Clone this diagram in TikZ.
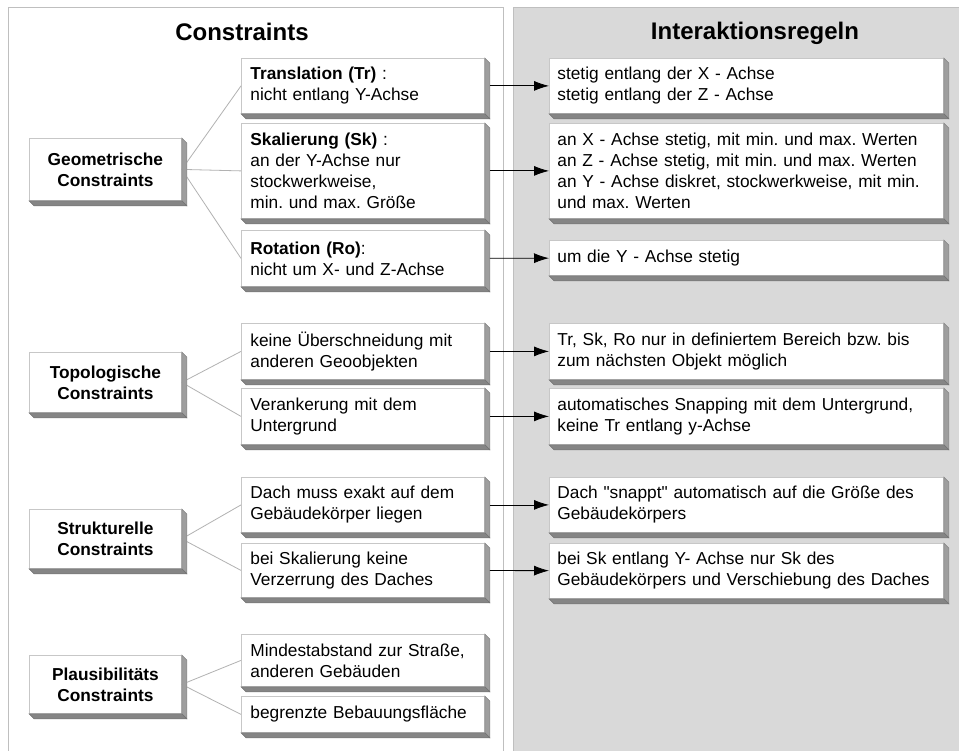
\documentclass[tikz,border=0pt]{standalone}
\usepackage{fontspec}
\setmainfont{Liberation Sans}[Ligatures=TeXOff]
\usepackage{tikz}
\usetikzlibrary{calc}
\usetikzlibrary{arrows.meta}
\frenchspacing
\tikzset{every picture/.style={line width=0.8pt}}
\tikzset{box/.style={draw=black!22,fill=white,rectangle,anchor=north west,inner ysep=0pt,font=\fontsize{17.3}{21}\selectfont},
  catbox/.style={box,font=\fontsize{17.3}{21}\selectfont\bfseries,text width=140pt,inner xsep=6pt,align=center},
  subbox/.style={box,text width=225pt,inner xsep=9pt,align=left},
  rulebox/.style={box,text width=378pt,inner xsep=8pt,align=left},
  heading/.style={font=\fontsize{24}{28}\selectfont\bfseries},
  side/.style={fill=black!38,draw=black!48,line width=0.5pt},
  bottom/.style={fill=black!48,draw=black!55,line width=0.5pt},
  link/.style={draw=black!30},
  arr/.style={-{Latex[length=15pt,width=10pt]},shorten <=5pt}}

\begin{document}
\begin{tikzpicture}[x=1pt,y=-1pt]
\useasboundingbox (0,0) rectangle (959,751);
% panels
\fill[white] (8,7) rectangle (503,751);
\draw[black!25] (8,751) -- (8,7) -- (503,7) -- (503,751);
\fill[black!15] (513,7) rectangle (959,751);
\draw[black!25] (513,751) -- (513,7) -- (959,7);
\node[heading] (hcon) at (242,32) {Constraints};
\node[heading] (hint) at (755,33) {Interaktionsregeln};
% constraint groups
\node[catbox,minimum height=62pt] (geo) at (29,138) {Geometrische\\Constraints};
\node[catbox,minimum height=60pt] (topo) at (29,352) {Topologische\\Constraints};
\node[catbox,minimum height=59pt] (struk) at (29,509) {Strukturelle\\Constraints};
\node[catbox,minimum height=58pt] (plaus) at (29,655) {Plausibilitäts\\Constraints};
% single constraints
\node[subbox,minimum height=55pt] (tr) at (241,58) {\textbf{Translation (Tr)} :\\nicht entlang Y-Achse};
\node[subbox,minimum height=95pt] (sk) at (241,123) {\textbf{Skalierung (Sk)} :\\an der Y-Achse nur\\stockwerkweise,\\min. und max. Größe};
\node[subbox,minimum height=56pt] (ro) at (241,230) {\textbf{Rotation (Ro)}:\\nicht um X- und Z-Achse};
\node[subbox,minimum height=56pt] (ueb) at (241,323) {keine Überschneidung mit\\anderen Geoobjekten};
\node[subbox,minimum height=56pt] (ver) at (241,388) {Verankerung mit dem\\Untergrund};
\node[subbox,minimum height=55pt] (dach) at (241,477) {Dach muss exakt auf dem\\Gebäudekörper liegen};
\node[subbox,minimum height=54pt] (ska) at (241,543) {bei Skalierung keine\\Verzerrung des Daches};
\node[subbox,minimum height=52pt] (mind) at (241,634) {Mindestabstand zur Straße,\\anderen Gebäuden};
\node[subbox,minimum height=36pt] (begr) at (241,696) {begrenzte Bebauungsfläche};
% rules
\node[rulebox,minimum height=55pt] (rtr) at (549,58) {stetig entlang der X - Achse\\stetig entlang der Z - Achse};
\node[rulebox,minimum height=95pt] (rsk) at (549,123) {an X - Achse stetig, mit min. und max. Werten\\an Z - Achse stetig, mit min. und max. Werten\\an Y - Achse diskret, stockwerkweise, mit min.\\und max. Werten};
\node[rulebox,minimum height=35pt] (rro) at (549,240) {um die Y - Achse stetig};
\node[rulebox,minimum height=56pt] (rueb) at (549,323) {Tr, Sk, Ro nur in definiertem Bereich bzw. bis\\zum nächsten Objekt möglich};
\node[rulebox,minimum height=56pt] (rver) at (549,388) {automatisches Snapping mit dem Untergrund,\\keine Tr entlang y-Achse};
\node[rulebox,minimum height=55pt] (rdach) at (549,477) {Dach "snappt" automatisch auf die Größe des\\Gebäudekörpers};
\node[rulebox,minimum height=55pt] (rska) at (549,543) {bei Sk entlang Y- Achse nur Sk des\\Gebäudekörpers und Verschiebung des Daches};
% links
\foreach \a/\b in {geo/tr,geo/sk,geo/ro,topo/ueb,topo/ver,struk/dach,struk/ska,plaus/mind,plaus/begr}
  \draw[link] (\a.east) -- (\b.west);
% 3d sides
\foreach \n in {geo,topo,struk,plaus,tr,sk,ro,ueb,ver,dach,ska,mind,begr,rtr,rsk,rro,rueb,rver,rdach,rska} {
  \filldraw[side] (\n.north east) -- ++(5,5) -- ($(\n.south east)+(5,5)$) -- (\n.south east) -- cycle;
  \filldraw[bottom] (\n.south west) -- ++(5,5) -- ($(\n.south east)+(5,5)$) -- (\n.south east) -- cycle;
}
% arrows
\foreach \a/\b in {tr/rtr,sk/rsk,ro/rro,ueb/rueb,ver/rver,dach/rdach,ska/rska}
  \draw[arr] (\a) -- (\b);
\end{tikzpicture}
\end{document}
